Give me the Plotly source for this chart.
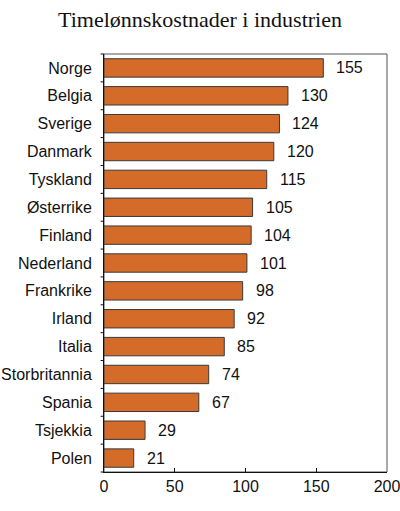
import plotly.graph_objects as go

countries = ["Norge", "Belgia", "Sverige", "Danmark", "Tyskland", "Østerrike", "Finland",
             "Nederland", "Frankrike", "Irland", "Italia", "Storbritannia", "Spania",
             "Tsjekkia", "Polen"]
values = [155, 130, 124, 120, 115, 105, 104, 101, 98, 92, 85, 74, 67, 29, 21]
x_ticks = [0, 50, 100, 150, 200]

fig = go.Figure()
fig.add_trace(go.Bar(
    x=values,
    y=countries,
    orientation="h",
    marker=dict(color="#D46B28", line=dict(color="#3a3a3a", width=1)),
    width=0.66,
))

# value labels to the right of each bar
for c, v in zip(countries, values):
    fig.add_annotation(x=v, y=c, text=str(v), showarrow=False,
                       xanchor="left", xshift=11,
                       font=dict(family="Liberation Sans, Arial", size=16, color="#111"))

fig.update_layout(
    width=400, height=511,
    margin=dict(l=104, r=13, t=54, b=39),
    paper_bgcolor="white", plot_bgcolor="white",
    title=dict(text="Timelønnskostnader i industrien", x=0.5, xanchor="center",
               y=0.962, yanchor="middle",
               font=dict(family="Liberation Serif, Times New Roman", size=22, color="#111")),
    showlegend=False,
    font=dict(family="Liberation Sans, Arial", size=16, color="#111"),
    shapes=[dict(type="rect", xref="paper", yref="paper", x0=0, x1=1, y0=0, y1=1,
                 line=dict(color="#555", width=1), layer="below")],
)
fig.update_xaxes(range=[0, 200], tickvals=x_ticks, showgrid=False, zeroline=False,
                 showline=True, linecolor="#111", linewidth=1, automargin=False,
                 ticklabeloverflow="allow",
                 ticks="inside", ticklen=4, tickcolor="#111", fixedrange=True)
fig.update_yaxes(categoryorder="array", categoryarray=countries[::-1], automargin=False,
                 showgrid=False, showline=True, linecolor="#111", linewidth=1,
                 ticks="", ticklabelstandoff=8, fixedrange=True)

# category boundary ticks on the left axis
for i in range(len(countries) + 1):
    fig.add_shape(type="line", xref="paper", yref="paper",
                  x0=-0.012, x1=0, y0=i / len(countries), y1=i / len(countries),
                  line=dict(color="#111", width=1))

fig.write_html("out.html", config={"displayModeBar": False},
               post_script="document.body.style.margin='0';")
